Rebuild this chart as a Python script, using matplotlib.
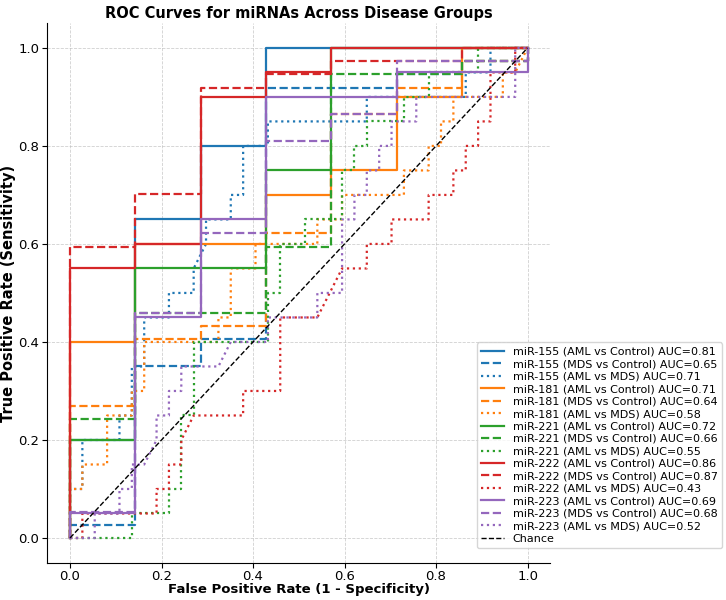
import matplotlib
matplotlib.use("Agg")
import matplotlib.pyplot as plt
import numpy as np

# group sizes (ROC step counts)
n_aml = 20
n_mds = 37
n_ctrl = 7

# --- AML vs Control: fpr in controls (of 7), tpr in AML (of 20)
mir155_aml_ctrl_fpr = [0, 0, 1, 1, 2, 2, 3, 3, 7]
mir155_aml_ctrl_tpr = [0, 4, 4, 13, 13, 16, 16, 20, 20]
mir181_aml_ctrl_fpr = [0, 0, 1, 1, 3, 3, 4, 4, 5, 5, 6, 6, 7]
mir181_aml_ctrl_tpr = [0, 8, 8, 12, 12, 14, 14, 15, 15, 18, 18, 20, 20]
mir221_aml_ctrl_fpr = [0, 0, 1, 1, 3, 3, 4, 4, 7]
mir221_aml_ctrl_tpr = [0, 4, 4, 11, 11, 15, 15, 20, 20]
mir222_aml_ctrl_fpr = [0, 0, 1, 1, 2, 2, 3, 3, 4, 4, 7]
mir222_aml_ctrl_tpr = [0, 11, 11, 12, 12, 18, 18, 19, 19, 20, 20]
mir223_aml_ctrl_fpr = [0, 0, 1, 1, 2, 2, 3, 3, 5, 5, 7, 7]
mir223_aml_ctrl_tpr = [0, 1, 1, 9, 9, 13, 13, 18, 18, 19, 19, 20]

# --- MDS vs Control: fpr in controls (of 7), tpr in MDS (of 37)
mir155_mds_ctrl_fpr = [0, 0, 1, 1, 2, 2, 3, 3, 5, 5, 6, 6, 7, 7]
mir155_mds_ctrl_tpr = [0, 1, 1, 13, 13, 15, 15, 34, 34, 35, 35, 36, 36, 37]
mir181_mds_ctrl_fpr = [0, 0, 1, 1, 2, 2, 3, 3, 4, 4, 5, 5, 6, 6, 7, 7]
mir181_mds_ctrl_tpr = [0, 10, 10, 15, 15, 16, 16, 23, 23, 32, 32, 34, 34, 36, 36, 37]
mir221_mds_ctrl_fpr = [0, 0, 1, 1, 3, 3, 4, 4, 6, 6, 7, 7]
mir221_mds_ctrl_tpr = [0, 9, 9, 17, 17, 22, 22, 35, 35, 36, 36, 37]
mir222_mds_ctrl_fpr = [0, 0, 1, 1, 2, 2, 3, 3, 4, 4, 6, 6, 7]
mir222_mds_ctrl_tpr = [0, 22, 22, 26, 26, 34, 34, 35, 35, 36, 36, 37, 37]
mir223_mds_ctrl_fpr = [0, 0, 1, 1, 2, 2, 3, 3, 4, 4, 5, 5, 7, 7]
mir223_mds_ctrl_tpr = [0, 2, 2, 17, 17, 23, 23, 30, 30, 32, 32, 36, 36, 37]

# --- AML vs MDS: fpr in MDS (of 37), tpr in AML (of 20)
mir155_aml_mds_fpr = [0, 0, 1, 1, 4, 4, 5, 5, 6, 6, 8, 8, 10, 10, 11, 11, 13, 13, 14, 14,
                      16, 16, 24, 24, 32, 32, 34, 34, 37]
mir155_aml_mds_tpr = [0, 2, 2, 4, 4, 5, 5, 7, 7, 9, 9, 10, 10, 11, 12, 13, 13, 14, 14, 16,
                      16, 17, 17, 18, 18, 19, 19, 20, 20]
mir181_aml_mds_fpr = [0, 0, 1, 1, 3, 3, 5, 5, 6, 6, 12, 12, 13, 13, 15, 15, 20, 20, 22, 22,
                      27, 27, 29, 29, 30, 30, 31, 31, 35, 35, 36, 37]
mir181_aml_mds_tpr = [0, 2, 2, 3, 3, 5, 5, 6, 6, 8, 8, 9, 9, 11, 11, 12, 12, 13, 13, 14,
                      14, 15, 15, 16, 16, 17, 17, 18, 18, 19, 19, 20]
mir221_aml_mds_fpr = [0, 5, 5, 8, 8, 9, 9, 10, 10, 16, 16, 17, 17, 19, 19, 22, 22, 23, 23,
                      24, 24, 27, 27, 29, 29, 33, 33, 37]
mir221_aml_mds_tpr = [0, 0, 1, 1, 2, 2, 5, 5, 8, 8, 10, 10, 12, 12, 13, 13, 15, 15, 16,
                      16, 17, 17, 18, 18, 19, 19, 20, 20]
mir222_aml_mds_fpr = [0, 1, 1, 7, 7, 8, 8, 9, 9, 10, 14, 14, 17, 17, 20, 22, 24, 24, 26, 26,
                      29, 29, 31, 31, 32, 32, 33, 33, 34, 34, 36, 36, 37]
mir222_aml_mds_tpr = [0, 0, 1, 1, 2, 2, 3, 3, 4, 5, 5, 6, 6, 9, 9, 11, 11, 12, 12, 13,
                      13, 14, 14, 15, 15, 16, 16, 17, 17, 19, 19, 20, 20]
mir223_aml_mds_fpr = [0, 2, 2, 4, 4, 5, 5, 6, 7, 7, 8, 8, 9, 9, 12, 13, 16, 16, 20, 20, 22,
                      22, 23, 23, 24, 24, 25, 25, 26, 26, 28, 28, 36, 36, 37]
mir223_aml_mds_tpr = [0, 0, 1, 1, 2, 2, 3, 3, 4, 5, 5, 6, 6, 7, 7, 8, 8, 9, 9, 10, 10,
                      13, 13, 14, 14, 15, 15, 16, 16, 17, 17, 18, 18, 20, 20]

mirnas = ["miR-155", "miR-181", "miR-221", "miR-222", "miR-223"]
colors = ["#1f77b4", "#ff7f0e", "#2ca02c", "#d62728", "#9467bd"]
comparisons = ["AML vs Control", "MDS vs Control", "AML vs MDS"]
styles = ["-", "--", ":"]
auc_values = [
    [0.81, 0.65, 0.71],
    [0.71, 0.64, 0.58],
    [0.72, 0.66, 0.55],
    [0.86, 0.87, 0.43],
    [0.69, 0.68, 0.52],
]

curves = [
    [(mir155_aml_ctrl_fpr, mir155_aml_ctrl_tpr), (mir155_mds_ctrl_fpr, mir155_mds_ctrl_tpr), (mir155_aml_mds_fpr, mir155_aml_mds_tpr)],
    [(mir181_aml_ctrl_fpr, mir181_aml_ctrl_tpr), (mir181_mds_ctrl_fpr, mir181_mds_ctrl_tpr), (mir181_aml_mds_fpr, mir181_aml_mds_tpr)],
    [(mir221_aml_ctrl_fpr, mir221_aml_ctrl_tpr), (mir221_mds_ctrl_fpr, mir221_mds_ctrl_tpr), (mir221_aml_mds_fpr, mir221_aml_mds_tpr)],
    [(mir222_aml_ctrl_fpr, mir222_aml_ctrl_tpr), (mir222_mds_ctrl_fpr, mir222_mds_ctrl_tpr), (mir222_aml_mds_fpr, mir222_aml_mds_tpr)],
    [(mir223_aml_ctrl_fpr, mir223_aml_ctrl_tpr), (mir223_mds_ctrl_fpr, mir223_mds_ctrl_tpr), (mir223_aml_mds_fpr, mir223_aml_mds_tpr)],
]
# (negatives, positives) per comparison
group_sizes = [(n_ctrl, n_aml), (n_ctrl, n_mds), (n_mds, n_aml)]

fig = plt.figure(figsize=(7.26, 6.0), dpi=100)
ax = fig.add_axes([0.0649, 0.0625, 0.6933, 0.8985])

for i, name in enumerate(mirnas):
    for j, comp in enumerate(comparisons):
        fpr, tpr = curves[i][j]
        n_neg, n_pos = group_sizes[j]
        ax.plot(np.array(fpr) / n_neg, np.array(tpr) / n_pos,
                color=colors[i], linestyle=styles[j], linewidth=1.6,
                label=f"{name} ({comp}) AUC={auc_values[i][j]:.2f}")

ax.plot([0, 1], [0, 1], "k--", linewidth=1, label="Chance")

ax.set_xlim(-0.05, 1.05)
ax.set_ylim(-0.05, 1.05)
ax.set_xticks([0, 0.2, 0.4, 0.6, 0.8, 1.0])
ax.set_yticks([0, 0.2, 0.4, 0.6, 0.8, 1.0])
ax.tick_params(labelsize=9.5, pad=2)
ax.grid(True, linestyle="--", linewidth=0.6, color="#bbbbbb", alpha=0.7)
ax.spines["top"].set_visible(False)
ax.spines["right"].set_visible(False)

ax.set_title("ROC Curves for miRNAs Across Disease Groups", fontsize=10.5, fontweight="bold", pad=4)
ax.set_xlabel("False Positive Rate (1 - Specificity)", fontsize=9.5, fontweight="bold", labelpad=0)
ax.set_ylabel("True Positive Rate (Sensitivity)", fontsize=10.5, fontweight="bold", labelpad=2)

ax.legend(loc="lower right", bbox_to_anchor=(722 / 726, 1 - 548 / 600),
          bbox_transform=fig.transFigure, fontsize=8, frameon=True,
          borderaxespad=0, labelspacing=0.22, handlelength=2.0, borderpad=0.4)

fig.savefig("out.png", dpi=100)
